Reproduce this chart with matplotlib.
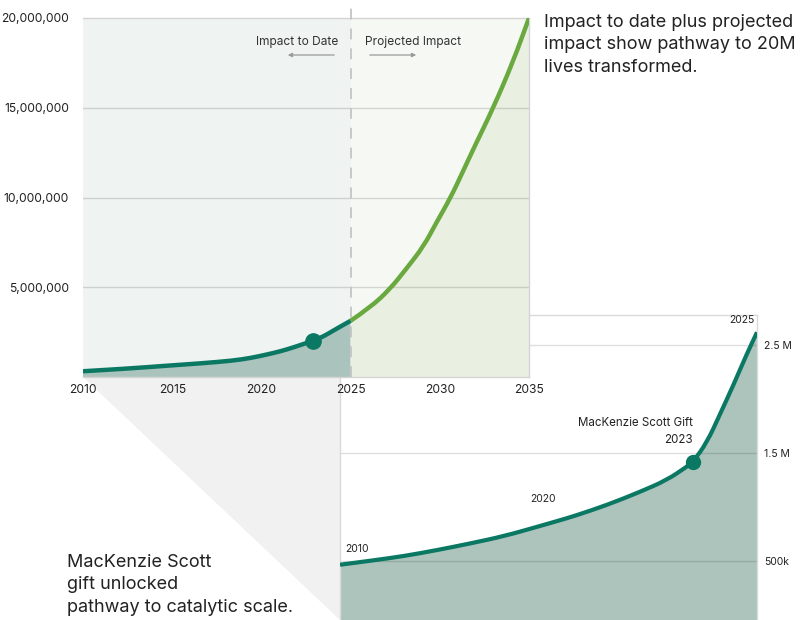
import numpy as np
import matplotlib
matplotlib.use("Agg")
import matplotlib.pyplot as plt
from matplotlib.patches import Polygon, PathPatch
from matplotlib.path import Path
from matplotlib.ticker import FuncFormatter

plt.rcParams['font.family'] = ['Inter', 'DejaVu Sans']

W, H = 801, 620

# top chart: impact to date (teal) and projection (green), millions of lives
years_hist = [2010, 2012.4, 2014.7, 2016.6, 2018.4, 2019.4, 2020.3, 2021.1,
              2021.8, 2022.9, 2023.5, 2024.0, 2025]
lives_hist = [0.32, 0.46, 0.63, 0.76, 0.91, 1.06, 1.25, 1.44,
              1.65, 2.02, 2.27, 2.57, 3.13]
years_proj = [2025, 2026.1, 2027.2, 2028.1, 2029.1, 2029.8, 2030.6, 2031.3,
              2032.0, 2033.0, 2034.1, 2035]
lives_proj = [3.13, 3.87, 4.89, 6.00, 7.29, 8.59, 9.98, 11.46,
              12.95, 15.00, 17.55, 20.00]
gift_year = 2022.9
gift_lives = 2.02
top_yticks = [5e6, 10e6, 15e6, 20e6]
top_xticks = [2010, 2015, 2020, 2025, 2030, 2035]

# bottom chart: zoom into 2010-2025
years_zoom = [2010.0, 2011.1, 2012.3, 2013.5, 2014.7, 2015.9, 2017.1, 2017.8,
              2018.4, 2019.6, 2020.8, 2021.75, 2022.45, 2022.7, 2023.2,
              2023.65, 2024.15, 2024.6, 2025.0]
lives_zoom = [0.466, 0.503, 0.546, 0.602, 0.664, 0.731, 0.818, 0.870,
              0.915, 1.019, 1.142, 1.25, 1.37, 1.42, 1.60,
              1.85, 2.13, 2.40, 2.62]
gift_year_zoom = 2022.7
gift_lives_zoom = 1.42
zoom_yticks = [0.5e6, 1.5e6, 2.5e6]
zoom_ylabels = ['500k', '1.5 M', '2.5 M']

teal = '#0b7863'
green = '#6aa93f'
txt = '#222222'


def fx(x):
    return x / W


def fy(y):
    return 1 - y / H


def smooth(xs, ys, base=None):
    # quadratic bezier through midpoints, read points act as control points
    verts = [(xs[0], ys[0])]
    codes = [Path.MOVETO]
    for i in range(1, len(xs) - 1):
        verts.append((xs[i], ys[i]))
        verts.append(((xs[i] + xs[i + 1]) / 2, (ys[i] + ys[i + 1]) / 2))
        codes += [Path.CURVE3, Path.CURVE3]
    verts.append((xs[-1], ys[-1]))
    codes.append(Path.LINETO)
    if base is not None:
        verts += [(xs[-1], base), (xs[0], base), (xs[0], ys[0])]
        codes += [Path.LINETO, Path.LINETO, Path.CLOSEPOLY]
    return Path(verts, codes)


fig = plt.figure(figsize=(W / 100, H / 100), dpi=100)
fig.patch.set_facecolor('white')

# grey funnel linking top chart to zoomed chart
funnel = Polygon([(fx(83), fy(377)), (fx(340), fy(377)), (fx(340), fy(620))],
                 closed=True, transform=fig.transFigure, facecolor='#f1f1f1',
                 edgecolor='none', zorder=-5)
fig.patches.append(funnel)

# ---------- lower (zoom) chart ----------
ax2 = fig.add_axes([fx(340), 0, fx(757) - fx(340), fy(315)], zorder=1)
ax2.set_xlim(2010, 2025)
ax2.set_ylim(-0.046e6, 2.78e6)
yz = np.array(lives_zoom) * 1e6
ax2.add_patch(PathPatch(smooth(years_zoom, yz, base=-1e6), facecolor='#adc4bd',
                        lw=0, zorder=1))
for t in zoom_yticks:
    ax2.axhline(t, color=(0, 0, 0, 0.13), lw=1, zorder=2)
ax2.add_patch(PathPatch(smooth(years_zoom, yz), facecolor='none', edgecolor=teal,
                        lw=3, capstyle='butt', zorder=3))
ax2.plot([gift_year_zoom], [gift_lives_zoom * 1e6], 'o', color=teal, ms=10, zorder=4)
ax2.set_xticks([])
ax2.yaxis.tick_right()
ax2.set_yticks(zoom_yticks)
ax2.set_yticklabels(zoom_ylabels)
ax2.tick_params(axis='y', length=0, pad=5, labelsize=7.5, labelcolor=txt)
for s in ['top', 'right', 'left']:
    ax2.spines[s].set_color('#dadada')
    ax2.spines[s].set_linewidth(1)
ax2.spines['bottom'].set_visible(False)
ax2.text(2010.2, 0.57e6, '2010', fontsize=7.5, color=txt, ha='left', va='bottom')
ax2.text(2017.3, 1.03e6, '2020', fontsize=7.5, color=txt, ha='center', va='bottom')
ax2.text(gift_year_zoom, 1.72e6, 'MacKenzie Scott Gift', fontsize=8.3, color=txt,
         ha='right', va='bottom')
ax2.text(gift_year_zoom, 1.57e6, '2023', fontsize=8.3, color=txt, ha='right', va='bottom')
ax2.text(2024.9, 2.69e6, '2025', fontsize=7.5, color=txt, ha='right', va='bottom')

# ---------- top chart ----------
ax1 = fig.add_axes([fx(83), fy(377), fx(529) - fx(83), fy(18) - fy(377)], zorder=2)
ax1.set_xlim(2010, 2035)
ax1.set_ylim(0, 20e6)
ax1.axvspan(2010, 2025, color='#eff3f1', lw=0, zorder=0)
ax1.axvspan(2025, 2035, color='#f6f8f3', lw=0, zorder=0)
yh = np.array(lives_hist) * 1e6
yp = np.array(lives_proj) * 1e6
ax1.add_patch(PathPatch(smooth(years_hist, yh, base=0), facecolor='#abc3bd',
                        lw=0, zorder=1))
ax1.add_patch(PathPatch(smooth(years_proj, yp, base=0), facecolor='#e9f0e2',
                        lw=0, zorder=1))
for t in top_yticks[:-1]:
    ax1.axhline(t, color=(0, 0, 0, 0.14), lw=1, zorder=2)
ax1.axvline(2025, ymin=0, ymax=377 / 359, color='#c4c4c4', lw=1.3,
            dashes=(6, 5), clip_on=False, zorder=3)
ax1.add_patch(PathPatch(smooth(years_proj, yp), facecolor='none', edgecolor=green,
                        lw=3.2, capstyle='butt', zorder=4))
ax1.add_patch(PathPatch(smooth(years_hist, yh), facecolor='none', edgecolor=teal,
                        lw=3.2, capstyle='butt', zorder=5))
ax1.plot([gift_year], [gift_lives * 1e6], 'o', color=teal, ms=11, zorder=6)
ax1.set_xticks(top_xticks)
ax1.set_yticks(top_yticks)
ax1.yaxis.set_major_formatter(FuncFormatter(lambda v, p: f'{int(v):,}'))
ax1.tick_params(axis='both', length=0, labelsize=8.7, labelcolor=txt)
ax1.tick_params(axis='y', pad=10)
ax1.tick_params(axis='x', pad=5)
for s in ax1.spines.values():
    s.set_color('#d4d4d4')
    s.set_linewidth(1)
ax1.spines['left'].set_visible(False)

# labels either side of the 2025 divider
fig.text(fx(338), fy(42), 'Impact to Date', fontsize=8.6, color='#333333',
         ha='right', va='center')
fig.text(fx(365), fy(42), 'Projected Impact', fontsize=8.6, color='#333333',
         ha='left', va='center')
fig.add_artist(plt.Annotation('', xy=(fx(285), fy(55)), xytext=(fx(337), fy(55)),
                              xycoords='figure fraction',
                              arrowprops=dict(arrowstyle='-|>', color='#9a9a9a',
                                              lw=0.9, mutation_scale=6)))
fig.add_artist(plt.Annotation('', xy=(fx(419), fy(55)), xytext=(fx(367), fy(55)),
                              xycoords='figure fraction',
                              arrowprops=dict(arrowstyle='-|>', color='#9a9a9a',
                                              lw=0.9, mutation_scale=6)))

# callouts
fig.text(fx(544), fy(14), 'Impact to date plus projected\nimpact show pathway to 20M\nlives transformed.',
         fontsize=13, color=txt, ha='left', va='top', linespacing=1.42)
fig.text(fx(67), fy(554), 'MacKenzie Scott\ngift unlocked\npathway to catalytic scale.',
         fontsize=13, color=txt, ha='left', va='top', linespacing=1.42)

fig.savefig('out.png', dpi=100)
